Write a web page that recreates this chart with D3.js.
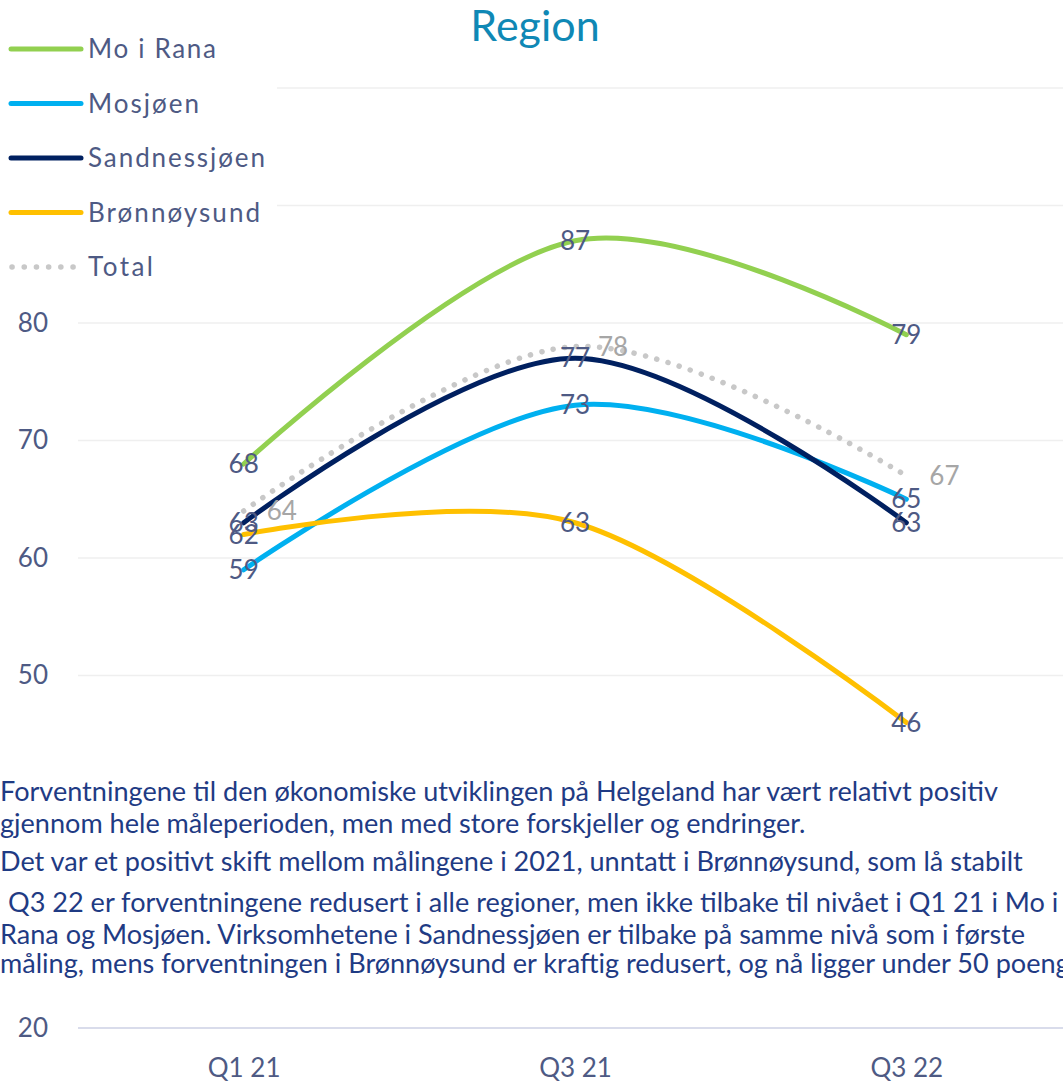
<!DOCTYPE html>
<html>
<head>
<meta charset="utf-8">
<script src="https://cdn.jsdelivr.net/npm/d3@7"></script>
<style>
  html, body { margin: 0; padding: 0; background: #ffffff; overflow: hidden; }
  svg { display: block; font-family: Lato, "Open Sans", sans-serif; }
</style>
</head>
<body>
<svg id="chart" width="1063" height="1082"></svg>
<script>
// ---- data ----
const categories = ["Q1 21", "Q3 21", "Q3 22"];
const moIRana = [68, 87, 79];
const mosjoen = [59, 73, 65];
const sandnessjoen = [63, 77, 63];
const bronnoysund = [62, 63, 46];
const total = [64, 78, 67];
const seriesNames = ["Mo i Rana", "Mosjøen", "Sandnessjøen", "Brønnøysund", "Total"];
const seriesColors = ["#92D050", "#00B0F0", "#002060", "#FFC000", "#C8C8C8"];
const gridValues = [20, 30, 40, 50, 60, 70, 80, 90, 100];
const tickLabels = [20, 50, 60, 70, 80];
const titleText = "Region";
const noteLines = [
  "Forventningene til den økonomiske utviklingen på Helgeland har vært relativt positiv",
  "gjennom hele måleperioden, men med store forskjeller og endringer.",
  "Det var et positivt skift mellom målingene i 2021, unntatt i Brønnøysund, som lå stabilt",
  "Q3 22 er forventningene redusert i alle regioner, men ikke tilbake til nivået i Q1 21 i Mo i",
  "Rana og Mosjøen. Virksomhetene i Sandnessjøen er tilbake på samme nivå som i første",
  "måling, mens forventningen i Brønnøysund er kraftig redusert, og nå ligger under 50 poeng."
];

const seriesValues = [moIRana, mosjoen, sandnessjoen, bronnoysund, total];

// ---- layout ----
const svg = d3.select("#chart");
const W = 1063, H = 1082;
const plotLeft = 78, plotRight = 1072;
const x = d3.scalePoint().domain(categories).range([plotLeft, plotRight]).padding(0.5);
const y = d3.scaleLinear().domain([20, 100]).range([1028, 88]);

const labelColor = "#4E5A84";

// gridlines
svg.append("g").selectAll("line").data(gridValues).join("line")
  .attr("x1", plotLeft).attr("x2", W)
  .attr("y1", d => y(d)).attr("y2", d => y(d))
  .attr("stroke", d => d === 20 ? "#D9DCEB" : "#EFEFEF")
  .attr("stroke-width", d => d === 20 ? 2 : 1.5);

// y axis labels
const yAxis = svg.append("g")
  .attr("transform", `translate(${plotLeft},0)`)
  .call(d3.axisLeft(y).tickValues(tickLabels).tickSize(0).tickPadding(30));
yAxis.select(".domain").remove();
yAxis.selectAll("text").attr("fill", labelColor).attr("font-size", 26)
  .attr("font-family", "Lato, sans-serif");

// x axis labels
const xAxis = svg.append("g")
  .attr("transform", `translate(0,${y(20)})`)
  .call(d3.axisBottom(x).tickSize(0).tickPadding(31));
xAxis.select(".domain").remove();
xAxis.selectAll("text").attr("fill", labelColor).attr("font-size", 26)
  .attr("font-family", "Lato, sans-serif");

// lines
const line = d3.line()
  .x((d, i) => x(categories[i]))
  .y(d => y(d))
  .curve(d3.curveCardinal.tension(0));

seriesValues.forEach((vals, si) => {
  const p = svg.append("path")
    .datum(vals)
    .attr("d", line)
    .attr("fill", "none")
    .attr("stroke", seriesColors[si])
    .attr("stroke-width", 5)
    .attr("stroke-linecap", "round")
    .attr("stroke-linejoin", "round");
  if (si === 4) p.attr("stroke-dasharray", "0.1 11.6").attr("stroke-width", 5.5);
});

// data labels
seriesValues.forEach((vals, si) => {
  const isTotal = si === 4;
  svg.append("g").selectAll("text").data(vals).join("text")
    .attr("x", (d, i) => x(categories[i]) + (isTotal ? 23 : 0))
    .attr("y", d => y(d))
    .attr("dy", "0.35em")
    .attr("text-anchor", isTotal ? "start" : "middle")
    .attr("font-size", 26)
    .attr("fill", isTotal ? "#A6A6A6" : labelColor)
    .text(d => d);
});

// legend box (covers upper gridlines)
svg.append("rect").attr("x", 0).attr("y", 0).attr("width", 277).attr("height", 295).attr("fill", "#ffffff");
const legendTargets = [128, 111, 177, 172, 65];
const leg = svg.append("g");
seriesNames.forEach((name, i) => {
  const ly = 49 + i * 54.5;
  const l = leg.append("line")
    .attr("x1", 11).attr("x2", i === 4 ? 74 : 81)
    .attr("y1", ly).attr("y2", ly)
    .attr("stroke", seriesColors[i])
    .attr("stroke-width", 5)
    .attr("stroke-linecap", "round");
  if (i === 4) l.attr("stroke-dasharray", "0.1 12.1").attr("stroke-width", 5.5).attr("x1", 12);
  leg.append("text")
    .attr("x", 88).attr("y", ly + 9)
    .attr("font-size", 26)
    .attr("fill", labelColor)
    .attr("textLength", legendTargets[i])
    .attr("lengthAdjust", "spacing")
    .text(name);
});

// title
svg.append("text")
  .attr("x", 535).attr("y", 41)
  .attr("text-anchor", "middle")
  .attr("font-size", 43)
  .attr("fill", "#0F88B5")
  .text(titleText);

// note text box
svg.append("rect").attr("x", 0).attr("y", 772).attr("width", W).attr("height", 212).attr("fill", "#ffffff");
const noteBaselines = [801, 833, 871, 912, 944, 973];
const noteX = [0, 0, 0, 8, 0, 0];
const notes = svg.append("g");
const noteTexts = noteLines.map((t, i) => notes.append("text")
  .attr("x", noteX[i]).attr("y", noteBaselines[i])
  .attr("font-size", 26)
  .attr("fill", "#1F3B84")
  .text(t));
const nat0 = noteTexts[0].node().getComputedTextLength();
const k = 998 / nat0;
noteTexts.forEach(t => {
  const n = t.node().getComputedTextLength();
  t.attr("textLength", n * k).attr("lengthAdjust", "spacingAndGlyphs");
});
</script>
</body>
</html>
